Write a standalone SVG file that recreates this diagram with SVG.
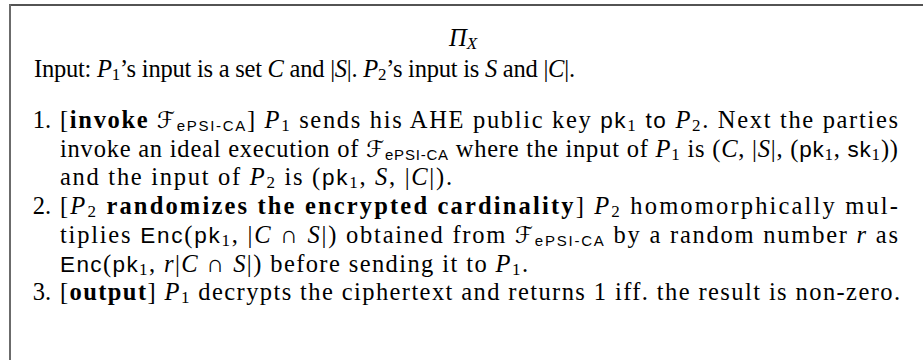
<svg xmlns="http://www.w3.org/2000/svg" width="923" height="360" viewBox="0 0 923 360">
  <style>
    .t { font-family: "Liberation Serif", "Times New Roman", serif; font-size: 24.5px; fill: #000; }
    .i { font-style: italic; }
    .b { font-weight: bold; }
    .sf { font-family: "Liberation Sans", Arial, sans-serif; font-size: 22.5px; }
    .sub { font-size: 17px; }
    .ssub { font-family: "Liberation Sans", Arial, sans-serif; font-size: 15px; }
    .cal { font-family: "DejaVu Serif", "DejaVu Sans", serif; font-style: italic; font-size: 23px; }
    .lbl { text-anchor: end; }
  </style>
  <rect width="923" height="360" fill="#fff"/>

  <!-- frame: top rule and left rule -->
  <g id="frame">
    <line x1="9" y1="5" x2="923" y2="5" stroke="#1a1a1a" stroke-width="1.4"/>
    <line x1="10" y1="4.3" x2="10" y2="360" stroke="#6b6b6b" stroke-width="2"/>
  </g>

  <!-- protocol name -->
  <g id="title">
    <text class="t" x="463" y="46" text-anchor="middle"><tspan class="i">Π</tspan><tspan class="i sub" dy="3">X</tspan></text>
  </g>

  <!-- inputs of the two parties -->
  <g id="input">
    <text class="t" x="34" y="77" textLength="541" lengthAdjust="spacing">Input: <tspan class="i">P</tspan><tspan class="sub" dy="3">1</tspan><tspan dy="-3">’s input is a set </tspan><tspan class="i">C</tspan> and |<tspan class="i">S</tspan>|. <tspan class="i">P</tspan><tspan class="sub" dy="3">2</tspan><tspan dy="-3">’s input is </tspan><tspan class="i">S</tspan> and |<tspan class="i">C</tspan>|.</text>
  </g>

  <!-- step 1 -->
  <g id="step1">
    <text class="t lbl" x="51" y="128">1.</text>
    <text class="t" x="60" y="128" textLength="838" lengthAdjust="spacing">[<tspan class="b">invoke</tspan> <tspan class="cal">ℱ</tspan><tspan class="ssub" dy="3">ePSI-CA</tspan><tspan dy="-3">] </tspan><tspan class="i">P</tspan><tspan class="sub" dy="3">1</tspan><tspan dy="-3"> sends his AHE public key </tspan><tspan class="sf">pk</tspan><tspan class="sub" dy="3">1</tspan><tspan class="sf" dy="-3"> to </tspan><tspan class="i">P</tspan><tspan class="sub" dy="3">2</tspan><tspan dy="-3">. Next the parties</tspan></text>
    <text class="t" x="60" y="156.7" textLength="838" lengthAdjust="spacing">invoke an ideal execution of <tspan class="cal">ℱ</tspan><tspan class="ssub" dy="3">ePSI-CA</tspan><tspan dy="-3"> where the input of </tspan><tspan class="i">P</tspan><tspan class="sub" dy="3">1</tspan><tspan dy="-3"> is (</tspan><tspan class="i">C</tspan>, |<tspan class="i">S</tspan>|, (<tspan class="sf">pk</tspan><tspan class="sub" dy="3">1</tspan><tspan dy="-3">, </tspan><tspan class="sf">sk</tspan><tspan class="sub" dy="3">1</tspan><tspan dy="-3">))</tspan></text>
    <text class="t" x="60" y="185.4" textLength="392" lengthAdjust="spacing">and the input of <tspan class="i">P</tspan><tspan class="sub" dy="3">2</tspan><tspan dy="-3"> is (</tspan><tspan class="sf">pk</tspan><tspan class="sub" dy="3">1</tspan><tspan dy="-3">, </tspan><tspan class="i">S</tspan>, |<tspan class="i">C</tspan>|).</text>
  </g>

  <!-- step 2 -->
  <g id="step2">
    <text class="t lbl" x="51" y="214.1">2.</text>
    <text class="t" x="60" y="214.1" textLength="838" lengthAdjust="spacing">[<tspan class="i">P</tspan><tspan class="sub" dy="3">2</tspan><tspan class="b" dy="-3"> randomizes the encrypted cardinality</tspan>] <tspan class="i">P</tspan><tspan class="sub" dy="3">2</tspan><tspan dy="-3"> homomorphically mul-</tspan></text>
    <text class="t" x="60" y="242.8" textLength="838" lengthAdjust="spacing">tiplies <tspan class="sf">Enc</tspan>(<tspan class="sf">pk</tspan><tspan class="sub" dy="3">1</tspan><tspan dy="-3">, |</tspan><tspan class="i">C</tspan> ∩ <tspan class="i">S</tspan>|) obtained from <tspan class="cal">ℱ</tspan><tspan class="ssub" dy="3">ePSI-CA</tspan><tspan dy="-3"> by a random number </tspan><tspan class="i">r</tspan> as</text>
    <text class="t" x="60" y="271.5" textLength="468" lengthAdjust="spacing"><tspan class="sf">Enc</tspan>(<tspan class="sf">pk</tspan><tspan class="sub" dy="3">1</tspan><tspan dy="-3">, </tspan><tspan class="i">r</tspan>|<tspan class="i">C</tspan> ∩ <tspan class="i">S</tspan>|) before sending it to <tspan class="i">P</tspan><tspan class="sub" dy="3">1</tspan><tspan dy="-3">.</tspan></text>
  </g>

  <!-- step 3 -->
  <g id="step3">
    <text class="t lbl" x="51" y="300.2">3.</text>
    <text class="t" x="60" y="300.2" textLength="840" lengthAdjust="spacing">[<tspan class="b">output</tspan>] <tspan class="i">P</tspan><tspan class="sub" dy="3">1</tspan><tspan dy="-3"> decrypts the ciphertext and returns 1 iff. the result is non-zero.</tspan></text>
  </g>
</svg>
